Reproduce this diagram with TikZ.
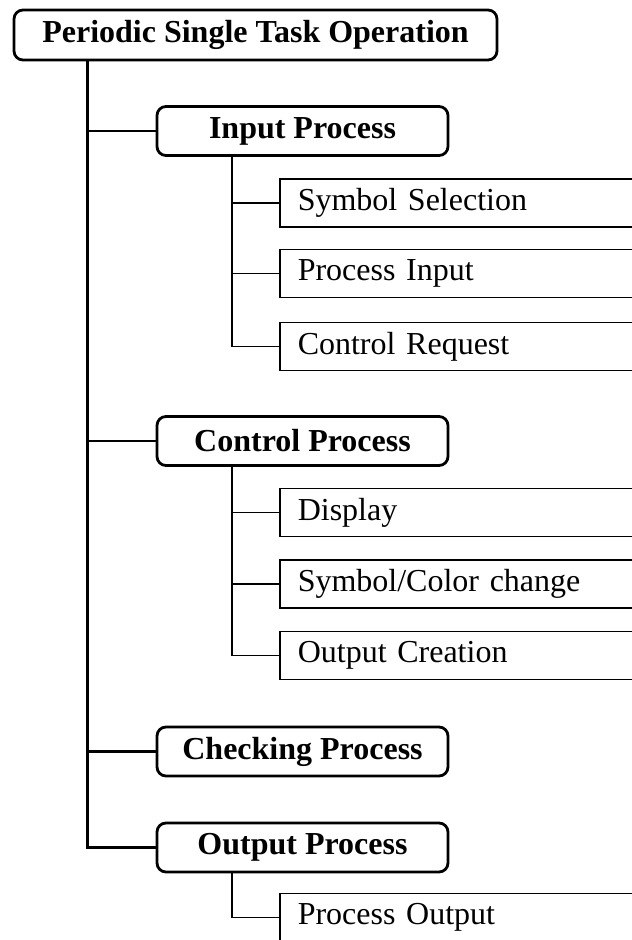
\documentclass[tikz,border=0pt]{standalone}
\usepackage{fontspec}
\setmainfont{Liberation Serif}
\begin{document}
\begin{tikzpicture}[x=1pt,y=-1pt,
  mainbox/.style={draw, line width=2.8pt, rounded corners=9pt, inner sep=0pt,
    font=\bfseries\fontsize{32}{36}\selectfont},
  procbox/.style={mainbox, minimum width=291pt, minimum height=49pt},
  leafbox/.style={draw, line width=1.5pt, anchor=west, inner xsep=18pt, inner ysep=0pt,
    text width=360pt, align=left, minimum height=48pt,
    font=\fontsize{32}{36}\selectfont},
  trunk/.style={line width=3pt},
  branch/.style={line width=2.5pt},
  sub/.style={line width=1.8pt},
  leafline/.style={line width=1.4pt}
]
\useasboundingbox (0,0) rectangle (632,940);
\clip (0,0) rectangle (632,940);

\node[mainbox, minimum width=483pt, minimum height=50pt] (root) at (255.5,35) {Periodic Single Task Operation};

\node[procbox] (inp) at (302.5,131) {Input Process};
\node[procbox] (ctl) at (302.5,441) {Control Process};
\node[procbox] (chk) at (302.5,751.5) {Checking Process};
\node[procbox] (out) at (302.5,847.5) {Output Process};

\node[leafbox] (ss) at (279,203) {Symbol Selection};
\node[leafbox] (pi) at (279,273.5) {Process Input};
\node[leafbox] (cr) at (279,346.5) {Control Request};
\node[leafbox] (dp) at (279,512.5) {Display};
\node[leafbox] (sc) at (279,584) {Symbol/Color change};
\node[leafbox] (oc) at (279,655.5) {Output Creation};
\node[leafbox] (po) at (279,917.5) {Process Output};

\coordinate (tx) at (87,0);
\coordinate (cx) at (232,0);

% trunk
\draw[trunk, line join=miter] (tx |- root.south) -- (tx |- out.west) -- (out.west);
\draw[branch] (tx |- inp.west) -- (inp.west);
\draw[branch] (tx |- ctl.west) -- (ctl.west);
\draw[branch] (tx |- chk.west) -- (chk.west);

% input subtree
\draw[sub] (cx |- inp.south) -- (cx |- cr.west) -- (cr.west);
\draw[leafline] (cx |- ss.west) -- (ss.west);
\draw[leafline] (cx |- pi.west) -- (pi.west);

% control subtree
\draw[sub] (cx |- ctl.south) -- (cx |- oc.west) -- (oc.west);
\draw[leafline] (cx |- dp.west) -- (dp.west);
\draw[leafline] (cx |- sc.west) -- (sc.west);

% output subtree
\draw[sub] (cx |- out.south) -- (cx |- po.west) -- (po.west);
\end{tikzpicture}
\end{document}
